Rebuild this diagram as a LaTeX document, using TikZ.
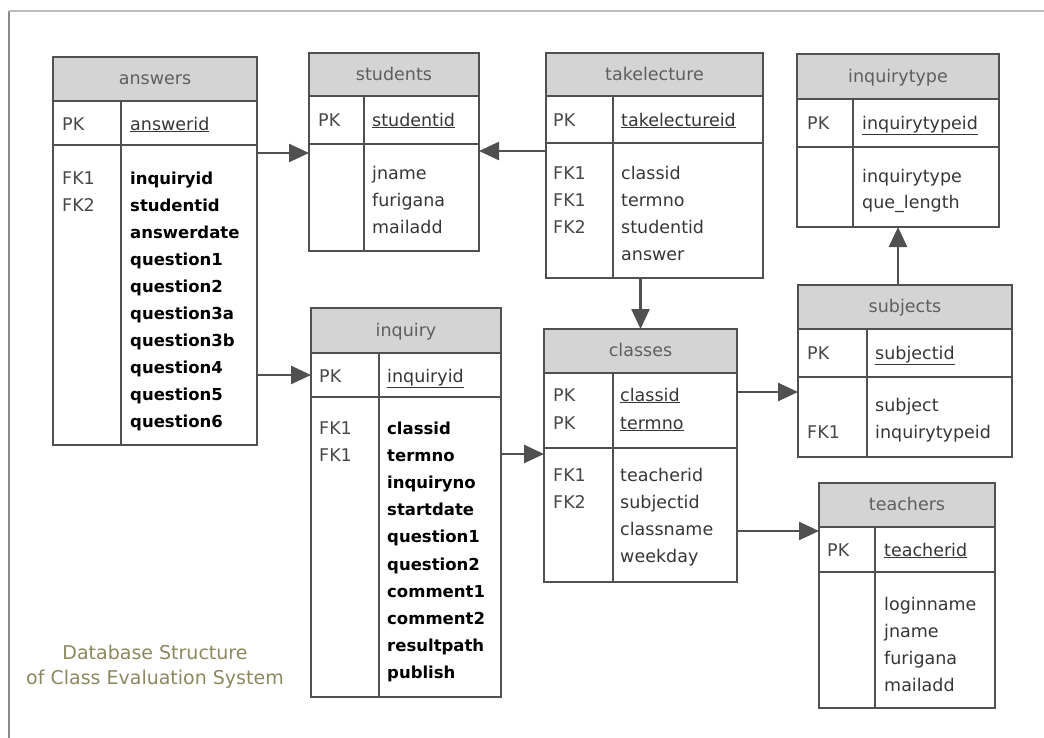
\documentclass[tikz,border=0pt]{standalone}
\usepackage{fontspec}
\setmainfont{DejaVu Sans}
\usetikzlibrary{arrows.meta,calc}

\definecolor{edge}{HTML}{505050}
\definecolor{hdrfill}{HTML}{D4D4D4}
\definecolor{keytext}{HTML}{474747}
\definecolor{fieldtext}{HTML}{363636}
\definecolor{titletext}{HTML}{5E5E5E}
\definecolor{captext}{HTML}{8C875F}
\definecolor{frameL}{HTML}{8A8A8A}
\definecolor{frameT}{HTML}{BBBBBB}

\tikzset{
  cell/.style={draw=edge, line width=1.5pt, inner sep=0pt, outer sep=0pt, anchor=north west},
  hdr/.style={cell, fill=hdrfill},
  ttl/.style={anchor=base, font=\fontsize{17.5}{21}\selectfont, text=titletext, inner sep=0pt},
  key/.style={anchor=base west, font=\fontsize{17.5}{21}\selectfont, text=keytext, inner sep=0pt},
  fld/.style={anchor=base west, font=\fontsize{17.5}{21}\selectfont, text=fieldtext, inner sep=0pt},
  bfld/.style={anchor=base west, font=\fontsize{16.5}{21}\selectfont\bfseries, text=black, inner sep=0pt},
  divider/.style={draw=edge, line width=1.5pt},
  fk/.style={draw=edge, line width=2.5pt, -{Triangle[length=20pt,width=18pt]}},
}

% table frame: name, left, right, top, header bottom, key bottom, bottom, column divider, title
\newcommand\ertable[9]{%
  \node[hdr, minimum width={#3-#2}, minimum height={#5-#4}] (#1-h) at (#2,#4) {};
  \node[cell, minimum width={#3-#2}, minimum height={#6-#5}] (#1-k) at (#2,#5) {};
  \node[cell, minimum width={#3-#2}, minimum height={#7-#6}] (#1-b) at (#2,#6) {};
  \draw[divider] (#8,#5) -- (#8,#7);
  \node[ttl] (#1-t) at ({(#2+#3)/2},{(#4+#5)/2+5.5}) {#9};
}

\begin{document}
\begin{tikzpicture}[x=1pt,y=-1pt]
\useasboundingbox (0,0) rectangle (1044,737);

% page frame
\draw[frameL, line width=1.5pt] (9,745) -- (9,11);
\draw[frameT, line width=1.2pt] (9,11) -- (1050,11);

% tables
\ertable{answers}{53}{257}{57}{101}{145}{445}{121}{answers}
\ertable{students}{309}{479}{53}{96}{144}{251}{364}{students}
\ertable{takelecture}{546}{763}{53}{96}{143}{278}{613}{takelecture}
\ertable{inquirytype}{797}{999}{54}{99}{147}{227}{853}{inquirytype}
\ertable{subjects}{798}{1012}{285}{329}{377}{457}{867}{subjects}
\ertable{inquiry}{311}{501}{308}{353}{397}{697}{379}{inquiry}
\ertable{classes}{544}{737}{329}{373}{448}{582}{613}{classes}
\ertable{teachers}{819}{995}{483}{527}{572}{708}{875}{teachers}

% answers
\node[key] (ans-pk) at (62,130) {PK};
\node[fld] (ans-id) at (130,130) {\underline{answerid}};
\node[key] (ans-fk1) at (62,184) {FK1};
\node[key] (ans-fk2) at (62,211) {FK2};
\foreach \t [count=\i from 0] in {inquiryid,studentid,answerdate,question1,question2,question3a,question3b,question4,question5,question6}
  \node[bfld] (ans-f\i) at (130,184+27*\i) {\t};

% students
\node[key] (stu-pk) at (318,126) {PK};
\node[fld] (stu-id) at (372,126) {\underline{studentid}};
\foreach \t [count=\i from 0] in {jname,furigana,mailadd}
  \node[fld] (stu-f\i) at (372,179+27*\i) {\t};

% takelecture
\node[key] (tak-pk) at (553,126) {PK};
\node[fld] (tak-id) at (621,126) {\underline{takelectureid}};
\foreach \t [count=\i from 0] in {FK1,FK1,FK2}
  \node[key] (tak-k\i) at (553,179+27*\i) {\t};
\foreach \t [count=\i from 0] in {classid,termno,studentid,answer}
  \node[fld] (tak-f\i) at (621,179+27*\i) {\t};

% inquirytype
\node[key] (ity-pk) at (807,129) {PK};
\node[fld] (ity-id) at (862,129) {\underline{inquirytypeid}};
\node[fld] (ity-f0) at (862,182) {inquirytype};
\node[fld] (ity-f1) at (862,208) {que\_length};

% subjects
\node[key] (sub-pk) at (807,359) {PK};
\node[fld] (sub-id) at (875,359) {\underline{subjectid}};
\node[fld] (sub-f0) at (875,411) {subject};
\node[key] (sub-fk1) at (807,438) {FK1};
\node[fld] (sub-f1) at (875,438) {inquirytypeid};

% inquiry
\node[key] (inq-pk) at (319,382) {PK};
\node[fld] (inq-id) at (387,382) {\underline{inquiryid}};
\node[key] (inq-fk1) at (319,434) {FK1};
\node[key] (inq-fk2) at (319,461) {FK1};
\foreach \t [count=\i from 0] in {classid,termno,inquiryno,startdate,question1,question2,comment1,comment2,resultpath,publish}
  \node[bfld] (inq-f\i) at (387,434+27.2*\i) {\t};

% classes
\node[key] (cls-pk1) at (553,401) {PK};
\node[key] (cls-pk2) at (553,429) {PK};
\node[fld] (cls-id1) at (620,401) {\underline{classid}};
\node[fld] (cls-id2) at (620,429) {\underline{termno}};
\node[key] (cls-fk1) at (553,481) {FK1};
\node[key] (cls-fk2) at (553,508) {FK2};
\foreach \t [count=\i from 0] in {teacherid,subjectid,classname,weekday}
  \node[fld] (cls-f\i) at (620,481+27*\i) {\t};

% teachers
\node[key] (tea-pk) at (827,556) {PK};
\node[fld] (tea-id) at (884,556) {\underline{teacherid}};
\foreach \t [count=\i from 0] in {loginname,jname,furigana,mailadd}
  \node[fld] (tea-f\i) at (884,610+27*\i) {\t};

% caption
\node[font=\fontsize{19}{25}\selectfont, text=captext, align=center, inner sep=0pt] (caption) at (155,667) {Database Structure\\of Class Evaluation System};

% foreign key references
\coordinate (a1) at ($(students-b.north west)+(0,9)$);
\draw[fk] (answers-b.east |- a1) -- (a1);
\coordinate (a2) at ($(students-b.north east)+(0,7)$);
\draw[fk] (takelecture-b.west |- a2) -- (a2);
\draw[fk] (takelecture-b.south -| classes-h.north) -- (classes-h.north);
\draw[fk] (answers-b.east |- inquiry-k.west) -- (inquiry-k.west);
\coordinate (a5) at ($(classes-b.north west)+(0,6)$);
\draw[fk] (inquiry-b.east |- a5) -- (a5);
\coordinate (a6) at ($(subjects-b.north west)+(0,15)$);
\draw[fk] (classes-k.east |- a6) -- (a6);
\coordinate (a7) at ($(teachers-k.north west)+(0,4)$);
\draw[fk] (classes-b.east |- a7) -- (a7);
\draw[fk] (subjects-h.north -| inquirytype-b.south) -- (inquirytype-b.south);
\end{tikzpicture}
\end{document}
